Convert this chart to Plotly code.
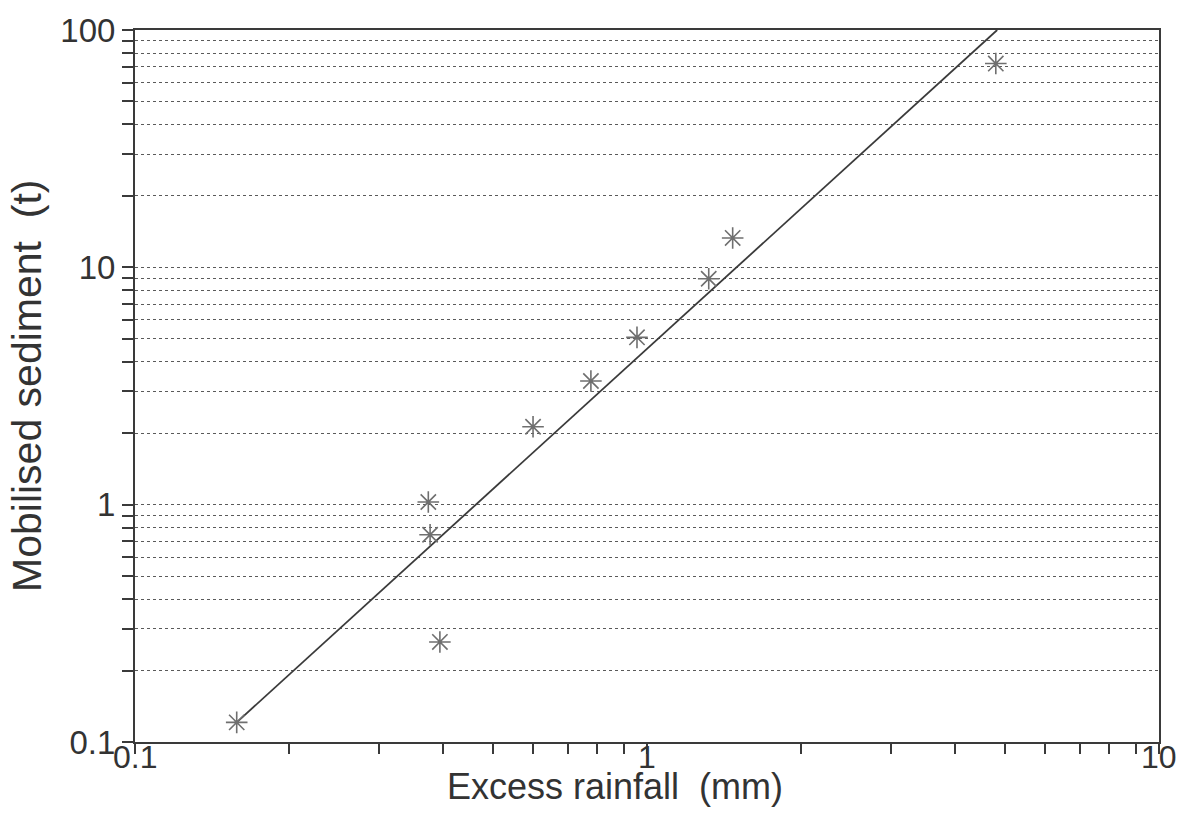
import math
import plotly.graph_objects as go

# Observed events: excess rainfall (mm) vs mobilised sediment (t)
excess_rainfall = [0.158, 0.374, 0.377, 0.394, 0.599, 0.777, 0.956, 1.32, 1.47, 4.80]
sediment = [0.121, 1.026, 0.747, 0.264, 2.13, 3.32, 5.07, 8.95, 13.3, 72.2]

# Fitted power-law line, end points
fit_x = [0.158, 4.83]
fit_y = [0.121, 100.0]

y_major = [0.1, 1, 10, 100]
y_major_text = ["0.1", "1", "10", "100"]
y_minor = [m * d for d in (0.1, 1, 10) for m in range(2, 10)]
x_major = [0.1, 1, 10]
x_major_text = ["0.1", "1", "10"]
x_minor = [m * d for d in (0.1, 1) for m in range(2, 10)]

axis_col = "#3a3a3a"
grid_col = "#5a5a5a"
family = "Liberation Sans, Arial, sans-serif"
text_col = "#333333"

fig = go.Figure()
fig.add_trace(go.Scatter(
    x=fit_x, y=fit_y, mode="lines",
    line=dict(color="#3a3a3a", width=1.8),
    hoverinfo="skip", showlegend=False,
))
fig.add_trace(go.Scatter(
    x=excess_rainfall, y=sediment, mode="markers",
    marker=dict(symbol="asterisk-open", size=18, color="#6f6f6f",
                line=dict(color="#6f6f6f", width=1.6)),
    showlegend=False,
))

fig.update_layout(
    width=1193, height=833,
    margin=dict(l=135, r=34, t=24, b=91),
    paper_bgcolor="white", plot_bgcolor="white",
    font=dict(family=family, size=33, color=text_col),
)
fig.update_xaxes(
    type="log", range=[-1, 1],
    tickmode="array", tickvals=x_major, ticktext=[""] * len(x_major),
    ticks="outside", ticklen=10, tickwidth=1.5, tickcolor=axis_col,
    showgrid=False, zeroline=False,
    showline=True, linecolor=axis_col, linewidth=2, mirror=True,
    minor=dict(tickmode="array", tickvals=x_minor, ticks="outside",
               ticklen=10, tickwidth=1.5, tickcolor=axis_col, showgrid=False),
)
fig.update_yaxes(
    type="log", range=[-1, 2],
    tickmode="array", tickvals=y_major, ticktext=y_major_text,
    ticks="outside", ticklen=11, tickwidth=1.5, tickcolor=axis_col,
    showgrid=True, gridcolor=grid_col, gridwidth=1.4, griddash="dot",
    zeroline=False,
    showline=True, linecolor=axis_col, linewidth=2, mirror=True,
    minor=dict(tickmode="array", tickvals=y_minor, ticks="outside",
               ticklen=11, tickwidth=1.5, tickcolor=axis_col,
               showgrid=True, gridcolor=grid_col, gridwidth=1.4, griddash="dot"),
    tickfont=dict(size=33),
)

# X tick labels set close under the tick marks
for v, t in zip(x_major, x_major_text):
    fig.add_annotation(
        text=t, xref="x", yref="paper", x=math.log10(v), y=-0.021,
        xanchor="center", yanchor="middle", showarrow=False,
        font=dict(family=family, size=32, color=text_col),
    )

# Axis titles placed as annotations
fig.add_annotation(
    text="Excess rainfall  (mm)", xref="paper", yref="paper",
    x=0.469, y=-0.062, xanchor="center", yanchor="middle", showarrow=False,
    font=dict(family=family, size=36, color=text_col),
)
fig.add_annotation(
    text="Mobilised sediment  (t)", xref="paper", yref="paper",
    x=-0.1055, y=0.5, xanchor="center", yanchor="middle", textangle=-90,
    showarrow=False,
    font=dict(family=family, size=41, color=text_col),
)

fig.write_html("out.html")
